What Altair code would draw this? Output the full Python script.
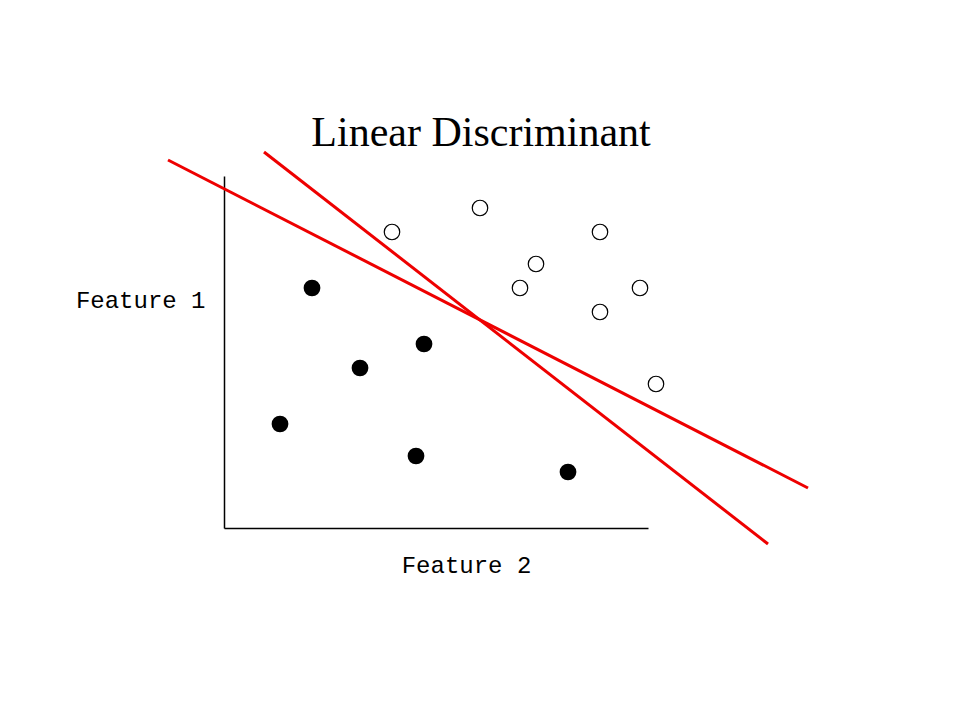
import altair as alt
import pandas as pd

# Class A (filled) points: Feature 2 (x), Feature 1 (y)
filled_x = [11, 25, 17, 7, 24, 43]
filled_y = [30, 23, 20, 13, 9, 7]
# Class B (open) points
open_x = [32, 21, 47, 39, 37, 52, 47, 54]
open_y = [40, 37, 37, 33, 30, 30, 27, 18]
# Two candidate linear discriminants (end points)
line_ids = ["d1", "d1", "d2", "d2"]
line_x = [-7, 73, 5, 68]
line_y = [46, 5, 47, -2]

X_DOMAIN = [0, 53]
Y_DOMAIN = [0, 44]

filled_df = pd.DataFrame({"x": filled_x, "y": filled_y})
open_df = pd.DataFrame({"x": open_x, "y": open_y})
lines_df = pd.DataFrame({"id": line_ids, "x": line_x, "y": line_y})

xs = alt.Scale(domain=X_DOMAIN, nice=False, zero=False)
ys = alt.Scale(domain=Y_DOMAIN, nice=False, zero=False)

x_axis = alt.Axis(
    title="Feature 2", ticks=False, labels=False, grid=False,
    domainColor="black", domainWidth=1.5,
    titleFont="Liberation Mono", titleFontSize=24, titleFontWeight="normal",
    titleColor="black", titleX=242, titleY=37, titleBaseline="middle",
    titleAlign="center",
)
y_axis = alt.Axis(
    title="Feature 1", ticks=False, labels=False, grid=False,
    domainColor="black", domainWidth=1.5,
    titleFont="Liberation Mono", titleFontSize=24, titleFontWeight="normal",
    titleColor="black", titleAngle=0, titleX=-19, titleY=124,
    titleBaseline="middle", titleAlign="right",
)

lines = alt.Chart(lines_df).mark_line(
    color="#ee0000", strokeWidth=3, clip=False
).encode(
    x=alt.X("x:Q", scale=xs, axis=x_axis),
    y=alt.Y("y:Q", scale=ys, axis=y_axis),
    detail="id:N",
)

filled = alt.Chart(filled_df).mark_point(
    shape="circle", filled=True, color="black", size=280, opacity=1
).encode(x=alt.X("x:Q", scale=xs), y=alt.Y("y:Q", scale=ys))

opened = alt.Chart(open_df).mark_point(
    shape="circle", filled=False, color="black", strokeWidth=1.2, size=240,
    opacity=1
).encode(x=alt.X("x:Q", scale=xs), y=alt.Y("y:Q", scale=ys))

chart = alt.layer(lines, filled, opened).properties(
    width=424,
    height=352,
    background="white",
    padding={"left": 216, "top": 168, "right": 304, "bottom": 184},
    autosize=alt.AutoSizeParams(type="none"),
    title=alt.TitleParams(
        text="Linear Discriminant", font="Liberation Serif", fontSize=42,
        fontWeight="normal", color="black", anchor="middle", frame="group",
        baseline="alphabetic", offset=31, dx=45, dy=73,
    ),
).configure_view(stroke=None, strokeWidth=0)

chart.save("out.html", embed_options={"renderer": "svg", "actions": False})
